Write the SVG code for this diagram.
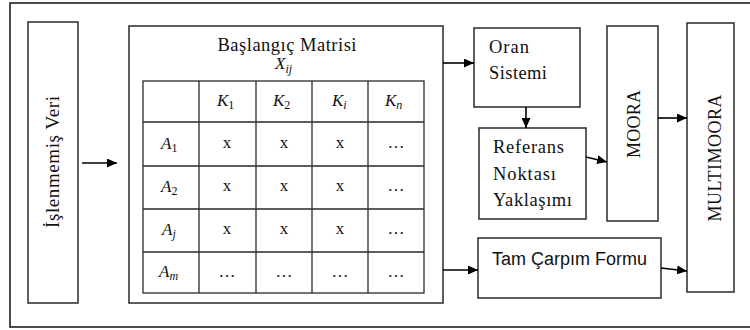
<svg xmlns="http://www.w3.org/2000/svg" width="750" height="330" viewBox="0 0 750 330">
<defs>
<marker id="ah" markerUnits="userSpaceOnUse" markerWidth="11" markerHeight="9" refX="10" refY="4.5" orient="auto">
<path d="M0,0 L10,4.5 L0,9 z" fill="#000"/>
</marker>
<style>
.box{fill:#fff;stroke:#2a2a2a;stroke-width:1.5}
.grid{stroke:#2a2a2a;stroke-width:1.3;fill:none}
.t{font-family:"Liberation Serif","Times New Roman",serif;fill:#111}
.s{font-family:"Liberation Sans",Arial,sans-serif;fill:#111}
.it{font-family:"Liberation Serif","Times New Roman",serif;font-style:italic;fill:#111;font-size:17px}
.sub{font-size:12px}
.up{font-style:normal}
.c{text-anchor:middle}
.con{stroke:#000;stroke-width:1.6;fill:none;marker-end:url(#ah)}
</style>
</defs>
<rect width="750" height="330" fill="#fff"/>
<path d="M752,3 H10 V327 H752" fill="none" stroke="#111" stroke-width="1.5"/>

<g id="islenmemis">
<rect class="box" x="28" y="22" width="50" height="281"/>
<text class="t c" font-size="19" transform="translate(59,162) rotate(-90)" textLength="132">İşlenmemiş Veri</text>
</g>

<g id="baslangic">
<rect class="box" x="129" y="26" width="314" height="277"/>
<text class="t c" x="287" y="51" font-size="18.5" textLength="139">Başlangıç Matrisi</text>
<text class="it" x="275" y="69" font-size="17">X<tspan class="sub" dy="4">ij</tspan></text>
<g id="table">
<rect class="grid" x="143" y="81" width="281" height="212"/>
<path class="grid" d="M199,81 V293 M256,81 V293 M312,81 V293 M368,81 V293 M143,122 H424 M143,166 H424 M143,209 H424 M143,252 H424"/>
<g class="it">
<text x="217" y="106">K<tspan class="sub up" dy="3">1</tspan></text>
<text x="273" y="106">K<tspan class="sub up" dy="3">2</tspan></text>
<text x="332" y="106">K<tspan class="sub" dy="3">i</tspan></text>
<text x="385" y="106">K<tspan class="sub" dy="3">n</tspan></text>
<text x="161" y="149">A<tspan class="sub up" dy="3">1</tspan></text>
<text x="161" y="192">A<tspan class="sub up" dy="3">2</tspan></text>
<text x="162" y="235">A<tspan class="sub" dy="3">j</tspan></text>
<text x="159" y="277">A<tspan class="sub" dy="3">m</tspan></text>
</g>
<g class="t c" font-size="17">
<text x="227" y="148">x</text><text x="284" y="148">x</text><text x="340" y="148">x</text><text x="396" y="148">…</text>
<text x="227" y="191">x</text><text x="284" y="191">x</text><text x="340" y="191">x</text><text x="396" y="191">…</text>
<text x="227" y="234">x</text><text x="284" y="234">x</text><text x="340" y="234">x</text><text x="396" y="234">…</text>
<text x="227" y="277">…</text><text x="284" y="277">…</text><text x="340" y="277">…</text><text x="396" y="277">…</text>
</g>
</g>
</g>

<g id="oran">
<rect class="box" x="474" y="28" width="106" height="79"/>
<text class="t" x="489" y="53" font-size="18.5" textLength="40">Oran</text>
<text class="t" x="489" y="79" font-size="18.5" textLength="58">Sistemi</text>
</g>

<g id="referans">
<rect class="box" x="479" y="128" width="107" height="91"/>
<text class="t" x="493" y="153" font-size="18.5" textLength="71">Referans</text>
<text class="t" x="493" y="180" font-size="18.5" textLength="63">Noktası</text>
<text class="t" x="493" y="206" font-size="18.5" textLength="79">Yaklaşımı</text>
</g>

<g id="tam">
<rect class="box" x="478" y="238" width="183" height="60"/>
<text class="s" x="492" y="265" font-size="18" textLength="155">Tam Çarpım Formu</text>
</g>

<g id="moora">
<rect class="box" x="607" y="26" width="51" height="195"/>
<text class="t c" font-size="18" transform="translate(640,124) rotate(-90)" textLength="68">MOORA</text>
</g>

<g id="multimoora">
<rect class="box" x="687" y="23" width="47" height="269"/>
<text class="t c" font-size="18" transform="translate(721,158) rotate(-90)" textLength="127">MULTIMOORA</text>
</g>

<g id="connectors">
<line class="con" x1="82" y1="163" x2="117" y2="163"/>
<line class="con" x1="443" y1="63" x2="474" y2="63"/>
<line class="con" x1="526" y1="107" x2="526" y2="128"/>
<line class="con" x1="586" y1="157" x2="607" y2="162"/>
<line class="con" x1="658" y1="118" x2="687" y2="118"/>
<line class="con" x1="443" y1="270" x2="478" y2="270"/>
<line class="con" x1="661" y1="268" x2="687" y2="271"/>
</g>
</svg>
